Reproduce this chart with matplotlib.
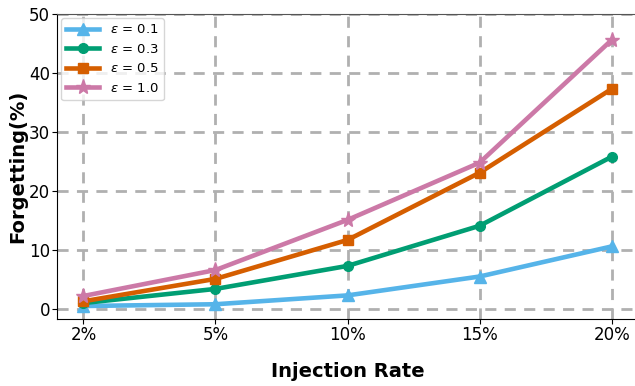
import matplotlib
matplotlib.use("Agg")
import matplotlib.pyplot as plt

rates = ["2%", "5%", "10%", "15%", "20%"]
eps_labels = [r"$\epsilon$ = 0.1", r"$\epsilon$ = 0.3", r"$\epsilon$ = 0.5", r"$\epsilon$ = 1.0"]
f_01 = [0.5, 0.8, 2.3, 5.5, 10.6]
f_03 = [1.0, 3.4, 7.3, 14.1, 25.8]
f_05 = [1.3, 5.1, 11.7, 23.1, 37.3]
f_10 = [2.2, 6.6, 15.1, 24.8, 45.6]
series = [f_01, f_03, f_05, f_10]
colors = ["#56B4E9", "#009E73", "#D55E00", "#CC79A7"]
markers = ["^", "o", "s", "*"]
msizes = [8, 7, 7, 11]

fig = plt.figure(figsize=(6.35, 3.86), dpi=100)
ax = fig.add_axes([0.0898, 0.1736, 0.915, 0.79])
x = list(range(len(rates)))
for vals, lab, c, m, ms in zip(series, eps_labels, colors, markers, msizes):
    ax.plot(x, vals, color=c, marker=m, markersize=ms, linewidth=3.3, label=lab)

ax.set_xticks(x)
ax.set_xticklabels(rates)
ax.set_xlim(-0.2, 4.2)
ax.set_ylim(-1.7, 50)
ax.set_yticks([0, 10, 20, 30, 40, 50])
ax.grid(True, linestyle=(0, (4, 3)), color="#b0b0b0", linewidth=2)
ax.set_axisbelow(True)
ax.spines["right"].set_visible(False)
ax.spines["top"].set_color("#555555")
ax.spines["top"].set_linewidth(0.8)
ax.tick_params(labelsize=12, pad=1.5)
ax.set_ylabel("Forgetting(%)", fontsize=14, fontweight="bold", labelpad=1)
ax.set_xlabel("Injection Rate", fontsize=14, fontweight="bold", labelpad=13)
ax.legend(loc="upper left", fontsize=9.5, handlelength=2.5, borderaxespad=0.3)
fig.savefig("out.png", dpi=100)
